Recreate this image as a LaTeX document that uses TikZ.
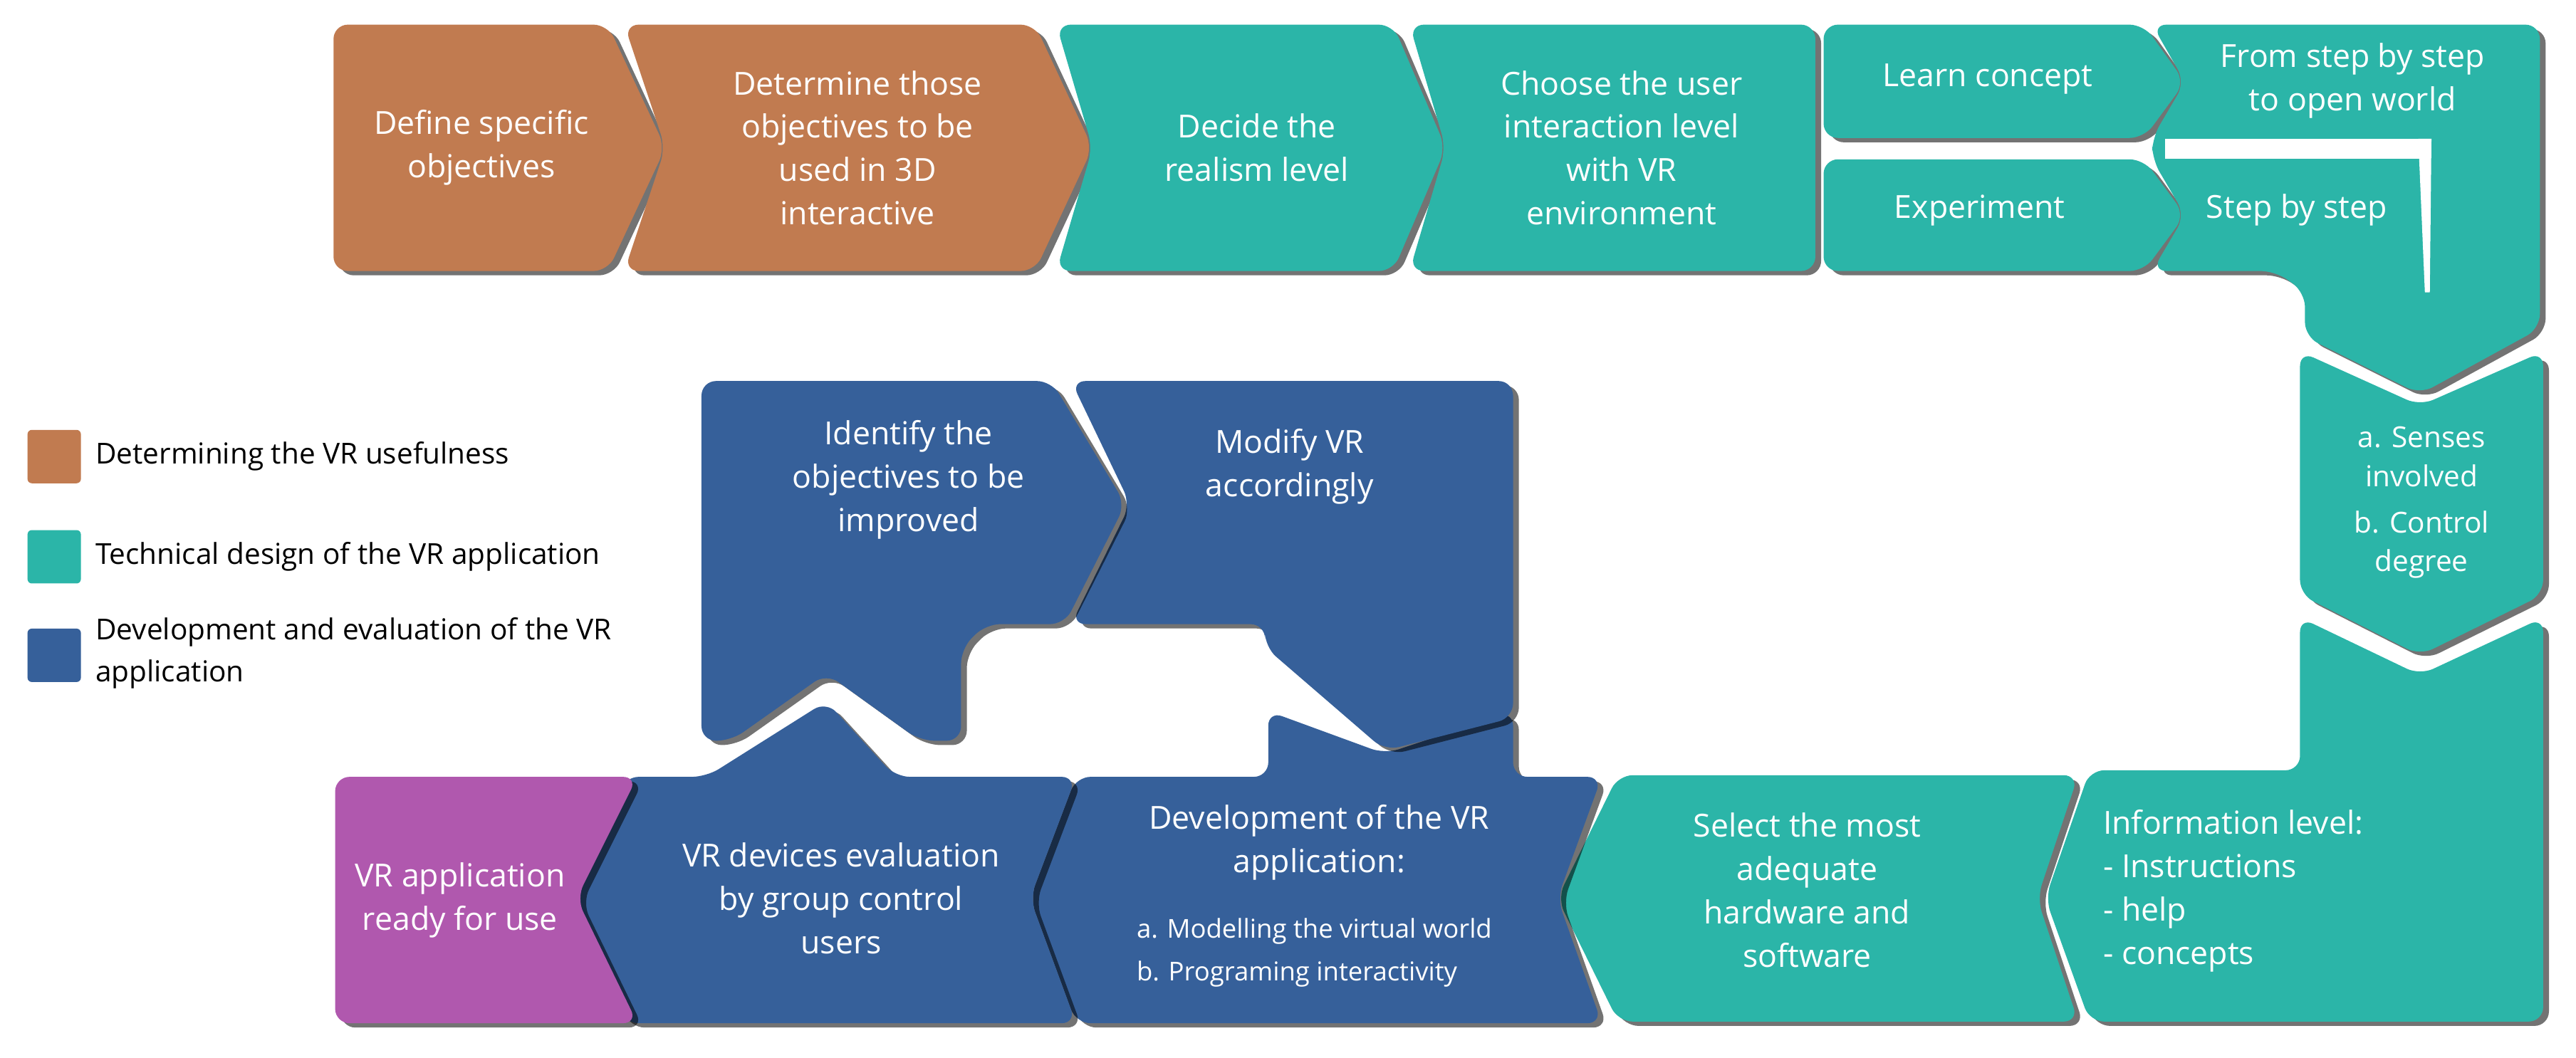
\documentclass[tikz,border=0pt]{standalone}
\usepackage{fontspec}
\setmainfont{Open Sans}
\usetikzlibrary{shadows}
\definecolor{cor}{HTML}{C17B50}
\definecolor{cte}{HTML}{2BB5A8}
\definecolor{cbl}{HTML}{36609A}
\definecolor{cpu}{HTML}{B058AE}
\begin{document}
\begin{tikzpicture}[x=0.04cm,y=-0.04cm,
  sh/.style={rounded corners=10pt,draw=none,drop shadow={shadow xshift=4pt,shadow yshift=-3pt,opacity=0.55,fill=black}},
  ors/.style={sh,fill=cor}, tes/.style={sh,fill=cte}, bls/.style={sh,fill=cbl}, pus/.style={sh,fill=cpu},
  tx/.style={text=white,align=center,font=\fontsize{22}{30}\selectfont,inner sep=0pt},
  sm/.style={text=white,align=left,font=\fontsize{18}{30}\selectfont,inner sep=0pt},
  lg/.style={font=\fontsize{20}{29}\selectfont,align=left,anchor=west,inner sep=0pt},
  lsq/.style={rounded corners=3pt,minimum size=1.3cm,inner sep=0pt}]
\useasboundingbox (0,0) rectangle (1568,644);
% top row
\path[ors] (203,15)--(370,15)--(405,90)--(370,165)--(203,165)--cycle;
\node[tx] (o1) at (293,90) {Define specific\\objectives};
\path[ors] (380,15)--(630,15)--(665,90)--(630,165)--(380,165)--(405,90)--cycle;
\node[tx] (o2) at (522,90) {Determine those\\objectives to be\\used in 3D\\interactive};
\path[tes] (643,15)--(848,15)--(880,90)--(848,165)--(643,165)--(665,90)--cycle;
\node[tx] (t3) at (765,90) {Decide the\\realism level};
\path[tes] (858,15)--(1105,15)--(1105,165)--(858,165)--(880,90)--cycle;
\node[tx] (t4) at (987,90) {Choose the user\\interaction level\\with VR\\environment};
\path[tes] (1110,15)--(1305,15)--(1330,50)--(1305,84)--(1110,84)--cycle;
\node[tx] (lc) at (1210,48) {Learn concept};
\path[tes] (1110,97)--(1305,97)--(1330,131)--(1305,165)--(1110,165)--cycle;
\node[tx] (ex) at (1205,128) {Experiment};
% big L
\path[tes] (1310,15)--(1546,15)--(1546,200)--(1473,240)--(1403,205)--(1403,178)--(1385,165)--(1310,165)--(1330,131)--(1310,97)--(1310,84)--(1330,50)--cycle;
\fill[white] (1318,84.5) rectangle (1478,96.5);
\fill[white] (1472,84.5)--(1480,84.5)--(1479,178)--(1476,178)--cycle;
\node[tx] (fs) at (1432,49) {From step by step\\to open world};
\node[tx] (sb) at (1398,128) {Step by step};
% senses
\path[tes] (1400,214)--(1473,247)--(1548,214)--(1548,362)--(1473,399)--(1400,362)--cycle;
\node[tx,font=\fontsize{20}{27}\selectfont] (se) at (1474,306) {a. Senses\\involved\\[5pt]b. Control\\degree};
% info
\path[tes] (1400,376)--(1473,411)--(1548,376)--(1548,622)--(1272,622)--(1245,547)--(1272,469)--(1400,469)--cycle;
\node[tx,align=left,anchor=north west] (il) at (1280,493) {Information level:\\ - Instructions\\ - help\\ - concepts};
% select
\path[tes] (948,547)--(985,472)--(1265,472)--(1240,547)--(1265,622)--(985,622)--cycle;
\node[tx] (sl) at (1100,542) {Select the most\\adequate\\hardware and\\software};
% development
\path[bls] (627,547)--(655,473)--(772,473)--(772,433)--(843,459)--(921,433)--(921,473)--(975,473)--(948,547)--(975,623)--(655,623)--cycle;
\node[tx] (dv) at (803,513) {Development of the VR\\application:};
\node[sm] (dva) at (800,580) {a. Modelling the virtual world\\b. Programing interactivity};
% VR devices
\path[bls] (351,547)--(380,473)--(430,473)--(503,427)--(545,473)--(655,473)--(627,547)--(655,623)--(380,623)--cycle;
\node[tx] (vd) at (512,547) {VR devices evaluation\\by group control\\users};
% purple
\path[pus] (204,473)--(388,473)--(351,547)--(388,623)--(204,623)--cycle;
\node[tx] (pu) at (280,548) {VR application\\ready for use};
% modify
\path[bls] (652,232)--(921,232)--(921,437)--(843,457)--(770,394)--(770,380)--(652,380)--(688,307)--cycle;
\node[tx] (mo) at (785,284) {Modify VR\\accordingly};
% identify
\path[bls] (427,232)--(640,232)--(685,307)--(648,380)--(600,380)--(585,395)--(585,451)--(560,451)--(503,410)--(445,451)--(427,451)--cycle;
\node[tx] (id) at (553,292) {Identify the\\objectives to be\\improved};
% legend
\node[lsq,fill=cor] (l1) at (33,278) {};
\node[lsq,fill=cte] (l2) at (33,339) {};
\node[lsq,fill=cbl] (l3) at (33,399) {};
\node[lg] (lt1) at (58,278) {Determining the VR usefulness};
\node[lg] (lt2) at (58,339) {Technical design of the VR application};
\node[lg,anchor=north west] (lt3) at (58,376) {Development and evaluation of the VR\\application};
\end{tikzpicture}
\end{document}
